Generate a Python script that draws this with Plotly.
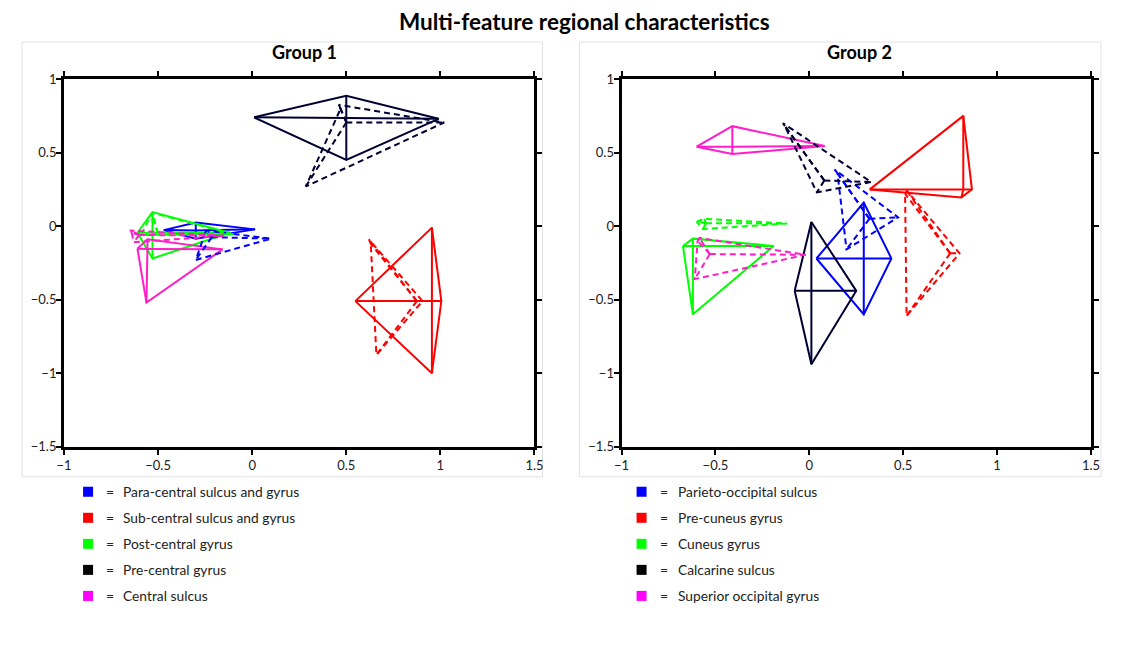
import plotly.graph_objects as go

W, H = 1132, 664
FONT = "Lato"

# ---------------- data ----------------
GLYPH_COLORS = ["#0000ff", "#ff0000", "#00ff00", "#000033", "#ff1ec8"]
LEGEND_COLORS = ["#0000ff", "#ff0000", "#00ff00", "#000000", "#ff00ff"]

G1_REGIONS = ["Para-central sulcus and gyrus", "Sub-central sulcus and gyrus",
              "Post-central gyrus", "Pre-central gyrus", "Central sulcus"]
G2_REGIONS = ["Parieto-occipital sulcus", "Pre-cuneus gyrus", "Cuneus gyrus",
              "Calcarine sulcus", "Superior occipital gyrus"]

# each glyph: [centre, left, up, right, down]
G1_SOLID_X = [[-0.30, -0.47, -0.30, 0.015, -0.30],
              [0.955, 0.548, 0.955, 1.005, 0.955],
              [-0.53, -0.61, -0.53, -0.12, -0.53],
              [0.50, 0.01, 0.50, 0.99, 0.50],
              [-0.557, -0.61, -0.557, -0.158, -0.562]]
G1_SOLID_Y = [[-0.03, -0.027, 0.024, -0.022, -0.085],
              [-0.51, -0.51, -0.01, -0.51, -1.0],
              [-0.045, -0.045, 0.096, -0.045, -0.22],
              [0.735, 0.74, 0.886, 0.73, 0.45],
              [-0.155, -0.153, -0.09, -0.158, -0.52]]
G1_DASH_X = [[-0.215, -0.25, -0.245, 0.10, -0.30],
             [0.875, 0.63, 0.62, 0.905, 0.66],
             [-0.50, -0.54, -0.53, -0.10, -0.59],
             [0.50, 0.47, 0.46, 1.02, 0.285],
             [-0.60, -0.64, -0.645, -0.15, -0.63]]
G1_DASH_Y = [[-0.075, -0.045, -0.03, -0.085, -0.23],
             [-0.51, -0.12, -0.09, -0.51, -0.875],
             [-0.05, 0.07, 0.09, -0.055, -0.06],
             [0.705, 0.80, 0.825, 0.705, 0.27],
             [-0.06, -0.045, -0.03, -0.065, -0.11]]

G2_SOLID_X = [[0.29, 0.038, 0.29, 0.437, 0.29],
              [0.82, 0.322, 0.82, 0.866, 0.81],
              [-0.62, -0.673, -0.62, -0.19, -0.62],
              [0.011, -0.078, 0.011, 0.25, 0.011],
              [-0.41, -0.60, -0.41, 0.082, -0.41]]
G2_SOLID_Y = [[-0.22, -0.22, 0.16, -0.22, -0.60],
              [0.25, 0.25, 0.75, 0.25, 0.195],
              [-0.135, -0.135, -0.085, -0.135, -0.60],
              [-0.44, -0.44, 0.028, -0.44, -0.94],
              [0.54, 0.54, 0.68, 0.545, 0.49]]
G2_DASH_X = [[0.32, 0.15, 0.135, 0.473, 0.198],
             [0.75, 0.51, 0.52, 0.80, 0.518],
             [-0.55, -0.60, -0.56, -0.12, -0.567],
             [0.08, -0.13, -0.14, 0.33, 0.04],
             [-0.53, -0.595, -0.585, -0.02, -0.61]]
G2_DASH_Y = [[0.05, 0.36, 0.385, 0.06, -0.158],
             [-0.185, 0.22, 0.24, -0.185, -0.61],
             [0.02, 0.03, 0.05, 0.018, -0.02],
             [0.31, 0.68, 0.70, 0.30, 0.23],
             [-0.19, -0.10, -0.08, -0.195, -0.36]]

X_TICKS = [-1, -0.5, 0, 0.5, 1, 1.5]
Y_TICKS = [-1.5, -1, -0.5, 0, 0.5, 1]


def glyph_path(gx, gy):
    c, pts = (gx[0], gy[0]), list(zip(gx[1:], gy[1:]))
    xs, ys = [], []
    for p in pts + [pts[0]]:
        xs.append(p[0]); ys.append(p[1])
    for p in pts:
        xs += [None, c[0], p[0]]
        ys += [None, c[1], p[1]]
    return xs, ys


fig = go.Figure()

groups = [(G1_SOLID_X, G1_SOLID_Y, G1_DASH_X, G1_DASH_Y, "x", "y"),
          (G2_SOLID_X, G2_SOLID_Y, G2_DASH_X, G2_DASH_Y, "x2", "y2")]
for sx, sy, dx, dy, xa, ya in groups:
    for style, ax, ay in (("solid", sx, sy), ("6px,4px", dx, dy)):
        for i in range(5):
            xs, ys = glyph_path(ax[i], ay[i])
            fig.add_trace(go.Scatter(x=xs, y=ys, mode="lines", xaxis=xa, yaxis=ya,
                                     line=dict(color=GLYPH_COLORS[i], width=2, dash=style),
                                     showlegend=False, hoverinfo="skip"))

# observed placement of the paper area inside the captured page
OX, OY, SW, SH = 9.0, 9.0, 1114.0, 647.0


def px_x(p):
    return (p - OX) / SW


def px_y(p):
    return 1 - (p - OY) / SH


axis_common = dict(showline=True, linewidth=3, linecolor="black", mirror="ticks",
                   ticks="outside", ticklen=5, tickwidth=2, tickcolor="black",
                   showgrid=False, zeroline=False,
                   tickfont=dict(family=FONT, size=13, color="#222"))
yaxis_extra = dict(ticklabelstandoff=-3)

fig.update_layout(
    width=W, height=H, margin=dict(l=0, r=0, t=0, b=0),
    paper_bgcolor="white", plot_bgcolor="white",
    font=dict(family=FONT),
    xaxis=dict(domain=[px_x(65), px_x(535)], range=[-1, 1.5], tickvals=X_TICKS,
               anchor="y", **axis_common),
    yaxis=dict(domain=[px_y(447), px_y(80)], range=[-1.5, 1], tickvals=Y_TICKS,
               anchor="x", **axis_common, **yaxis_extra),
    xaxis2=dict(domain=[px_x(622), px_x(1091)], range=[-1, 1.5], tickvals=X_TICKS,
                anchor="y2", **axis_common),
    yaxis2=dict(domain=[px_y(447), px_y(80)], range=[-1.5, 1], tickvals=Y_TICKS,
                anchor="x2", **axis_common, **yaxis_extra),
)

shapes = []
annotations = []
# panel cards
for x0, x1 in ((23, 543), (580, 1101)):
    shapes.append(dict(type="rect", xref="paper", yref="paper",
                       x0=px_x(x0), x1=px_x(x1), y0=px_y(477), y1=px_y(43),
                       line=dict(color="#e3e3e3", width=1), layer="below"))

annotations.append(dict(text="<b>Multi-feature regional characteristics</b>",
                        x=px_x(585), y=px_y(22), xref="paper", yref="paper",
                        xanchor="center", yanchor="middle",
                        showarrow=False, font=dict(family=FONT, size=22.5, color="black")))
for txt, cx in (("Group 1", 305), ("Group 2", 860)):
    annotations.append(dict(text=f"<b>{txt}</b>", x=px_x(cx), y=px_y(53),
                            xref="paper", yref="paper", showarrow=False,
                            xanchor="center", yanchor="middle",
                            font=dict(family=FONT, size=18, color="black")))

for names, sq_x, eq_x, tx_x in ((G1_REGIONS, 84, 111, 122), (G2_REGIONS, 637, 664, 676)):
    for i, name in enumerate(names):
        yc = 492 + 26 * i
        shapes.append(dict(type="rect", xref="paper", yref="paper",
                           x0=px_x(sq_x), x1=px_x(sq_x + 10),
                           y0=px_y(yc + 5), y1=px_y(yc - 5),
                           fillcolor=LEGEND_COLORS[i], line=dict(width=0)))
        annotations.append(dict(text="=", x=px_x(eq_x), y=px_y(yc), xref="paper",
                                yref="paper", showarrow=False, xanchor="center",
                                yanchor="middle",
                                font=dict(family=FONT, size=14, color="#222")))
        annotations.append(dict(text=name, x=px_x(tx_x), y=px_y(yc), xref="paper",
                                yref="paper", showarrow=False, xanchor="left",
                                yanchor="middle",
                                font=dict(family=FONT, size=13.8, color="#222")))

fig.update_layout(shapes=shapes, annotations=annotations)
fig.write_html("out.html", config={"displayModeBar": False},
               post_script="document.body.style.margin='0';"
                           "document.body.style.overflow='hidden';")
